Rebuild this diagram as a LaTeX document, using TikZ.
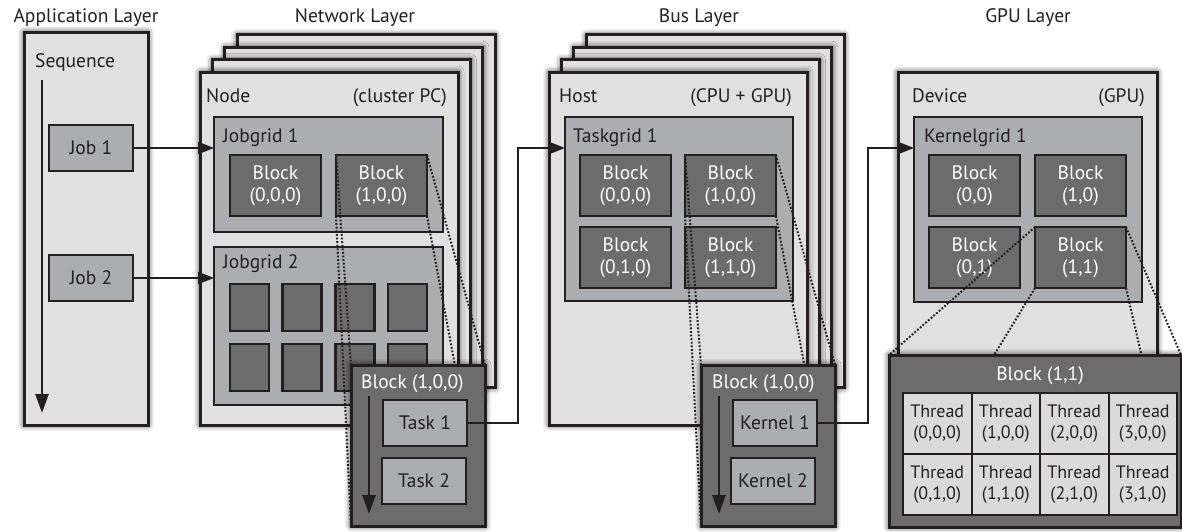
\documentclass[tikz,border=0pt]{standalone}
\usepackage{fontspec}
\setmainfont{PT Sans}
\usetikzlibrary{arrows.meta,shadows.blur}

\definecolor{panelgray}{RGB}{225,224,224}
\definecolor{gridgray}{RGB}{172,173,176}
\definecolor{blockgray}{RGB}{108,108,108}
\definecolor{threadgray}{RGB}{218,218,218}
\definecolor{edgeblack}{RGB}{35,31,32}

\tikzset{
  every node/.style={font=\fontsize{19.5}{21.5}\selectfont, text=edgeblack},
  box/.style={rectangle, draw=edgeblack, anchor=north west, inner sep=0pt, outer sep=0pt},
  panel/.style={box, fill=panelgray, line width=3pt,
    blur shadow={shadow xshift=0pt, shadow yshift=0pt, shadow blur radius=6pt, shadow opacity=90}},
  gridbox/.style={box, fill=gridgray, line width=2.5pt},
  blk/.style={box, fill=blockgray, line width=2.5pt, text=white, align=center,
    minimum width=91pt, minimum height=61pt},
  job/.style={box, fill=gridgray, line width=2.5pt, minimum width=84pt, minimum height=46pt},
  detail/.style={panel, fill=blockgray},
  thread/.style={box, fill=threadgray, line width=2pt, align=center,
    font=\fontsize{18}{21.5}\selectfont, minimum width=68.5pt, minimum height=61pt},
  lbl/.style={anchor=base west, inner sep=0pt},
  conn/.style={draw=edgeblack, line width=2pt, -{Triangle[length=16pt,width=12pt]}},
  flow/.style={draw=edgeblack, line width=2.5pt, -{Triangle[length=19pt,width=13pt]}},
  dotline/.style={draw=edgeblack, line width=2pt, dash pattern=on 1.8pt off 1.8pt}
}

\begin{document}
\begin{tikzpicture}[x=1pt,y=-1pt]
  \useasboundingbox (0,0) rectangle (1182,531);

  % layer titles
  \node[anchor=base, inner sep=0pt] (apptitle) at (86,22) {Application Layer};
  \node[anchor=base, inner sep=0pt] (nettitle) at (355,22) {Network Layer};
  \node[anchor=base, inner sep=0pt] (bustitle) at (699,22) {Bus Layer};
  \node[anchor=base, inner sep=0pt] (gputitle) at (1028,22) {GPU Layer};

  % application layer
  \node[panel, minimum width=124pt, minimum height=393pt] (app) at (24,32) {};
  \node[lbl] (seqlbl) at (35,67) {Sequence};
  \coordinate (seqtop) at (42,80);
  \coordinate (seqbot) at (42,413);
  \draw[flow] (seqtop) -- (seqbot);
  \node[job] (job1) at (49,125) {Job 1};
  \node[job] (job2) at (49,255) {Job 2};

  % network layer
  \foreach \i in {3,2,1}
    \node[panel, minimum width=258pt, minimum height=353pt] (netcard\i) at (200+12.4*\i,72-12.4*\i) {};
  \node[panel, minimum width=258pt, minimum height=353pt] (netnode) at (200,72) {};
  \node[lbl] (nodelbl) at (206,102) {Node};
  \node[lbl, anchor=base east] (pclbl) at (447,102) {(cluster PC)};
  \node[gridbox, minimum width=229pt, minimum height=115pt] (jobgrid1) at (214,117) {};
  \node[lbl] (jg1lbl) at (223,142) {Jobgrid 1};
  \node[blk] (nb000) at (230,155) {Block\\(0,0,0)};
  \node[blk] (nb100) at (336,155) {Block\\(1,0,0)};
  \node[gridbox, minimum width=229pt, minimum height=158pt] (jobgrid2) at (214,247) {};
  \node[lbl] (jg2lbl) at (223,268) {Jobgrid 2};
  \foreach \c in {0,...,3}
    \foreach \r in {0,1}
      \node[blk, minimum width=39pt, minimum height=47pt] (jsq\c\r) at (230+52.7*\c,284+60*\r) {};
  \draw[dotline] (nb100.north west) -- (351,365);
  \draw[dotline] (nb100.south west) -- (351,526);
  \draw[dotline] (nb100.north east) -- (485,365);
  \draw[dotline] (nb100.south east) -- (485,526);
  \node[detail, minimum width=134pt, minimum height=161pt] (netblk) at (351,365) {};
  \node[lbl, text=white] (netblklbl) at (361,388) {Block (1,0,0)};
  \coordinate (nettop) at (369,396);
  \coordinate (netbot) at (369,514);
  \draw[flow] (nettop) -- (netbot);
  \node[job] (task1) at (383,400) {Task 1};
  \node[job] (task2) at (382,458) {Task 2};

  % bus layer
  \foreach \i in {3,2,1}
    \node[panel, minimum width=258pt, minimum height=353pt] (buscard\i) at (549+12.4*\i,72-12.4*\i) {};
  \node[panel, minimum width=258pt, minimum height=353pt] (bushost) at (549,72) {};
  \node[lbl] (hostlbl) at (559,102) {Host};
  \node[lbl, anchor=base east] (cpulbl) at (792,102) {(CPU + GPU)};
  \node[gridbox, minimum width=228pt, minimum height=184pt] (taskgrid1) at (565,117) {};
  \node[lbl] (tg1lbl) at (573,142) {Taskgrid 1};
  \foreach \c in {0,1}
    \foreach \r in {0,1}
      \node[blk] (tb\c\r0) at (580+105*\c,155+72*\r) {Block\\(\c,\r,0)};
  \draw[dotline] (tb100.north west) -- (701,365);
  \draw[dotline] (tb100.south west) -- (701,526);
  \draw[dotline] (tb100.north east) -- (835,365);
  \draw[dotline] (tb100.south east) -- (835,526);
  \node[detail, minimum width=134pt, minimum height=161pt] (busblk) at (701,365) {};
  \node[lbl, text=white] (busblklbl) at (712,388) {Block (1,0,0)};
  \coordinate (bustop) at (719,396);
  \coordinate (busbot) at (719,514);
  \draw[flow] (bustop) -- (busbot);
  \node[job] (kernel1) at (733,400) {Kernel 1};
  \node[job] (kernel2) at (731,458) {Kernel 2};

  % gpu layer
  \node[panel, minimum width=259pt, minimum height=353pt] (gpudev) at (898,72) {};
  \node[lbl] (devlbl) at (912,102) {Device};
  \node[lbl, anchor=base east] (gpulbl) at (1145,102) {(GPU)};
  \node[gridbox, minimum width=228pt, minimum height=185pt] (kernelgrid1) at (914,117) {};
  \node[lbl] (kg1lbl) at (924,142) {Kernelgrid 1};
  \foreach \c in {0,1}
    \foreach \r in {0,1}
      \node[blk] (kb\c\r) at (929+106*\c,155+72*\r) {Block\\(\c,\r)};
  \draw[dotline] (kb11.north west) -- (889,355);
  \draw[dotline] (kb11.south west) -- (889,527);
  \draw[dotline] (kb11.north east) -- (1181,355);
  \draw[dotline] (kb11.south east) -- (1181,527);
  \node[detail, minimum width=292pt, minimum height=172pt] (gpublk) at (889,355) {};
  \node[anchor=base, inner sep=0pt, text=white] (gpublklbl) at (1040,380) {Block (1,1)};
  \foreach \c in {0,...,3}
    \foreach \r in {0,1}
      \node[thread] (th\c\r) at (903+68.5*\c,393+61*\r) {Thread\\(\c,\r,0)};

  % connectors
  \draw[conn] (job1.east) -- (jobgrid1.west |- job1.east);
  \draw[conn] (job2.east) -- (jobgrid2.west |- job2.east);
  \draw[conn] (task1.east) -- ++(51,0) |- (taskgrid1.west |- job1.east);
  \draw[conn] (kernel1.east) -- ++(51,0) |- (kernelgrid1.west |- job1.east);
\end{tikzpicture}
\end{document}
